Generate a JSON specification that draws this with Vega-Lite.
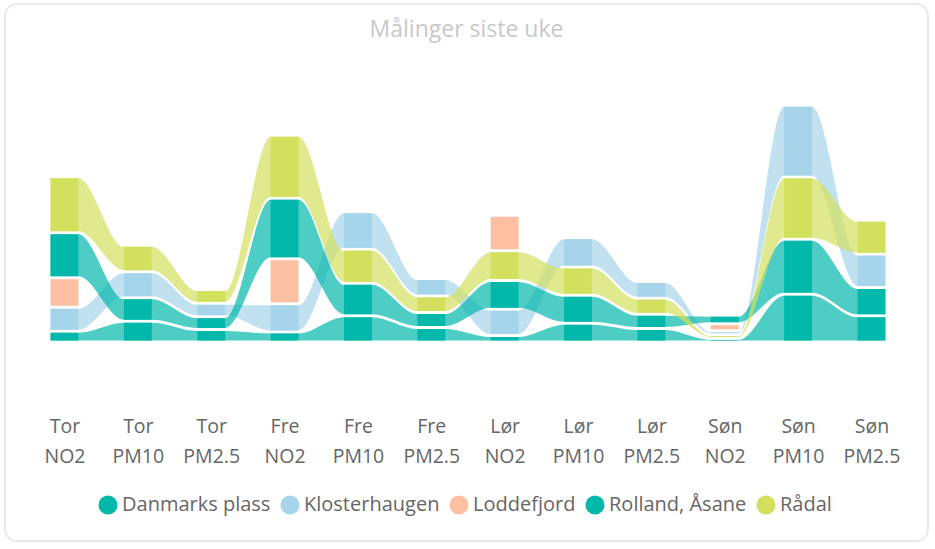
{
  "$schema": "https://vega.github.io/schema/vega-lite/v6.json",
  "width": 923,
  "height": 537,
  "autosize": {"type": "none"},
  "padding": {"left": 5, "top": 4, "right": 7, "bottom": 8},
  "background": "white",
  "title": {"text": "Målinger siste uke", "fontSize": 23, "color": "#C8C8C8", "font": "Open Sans", "fontWeight": "normal", "anchor": "middle", "offset": -38},
  "config": {
    "view": {"stroke": "#E4E4E4", "strokeWidth": 1.5, "cornerRadius": 12},
    "font": "Open Sans"
  },
  "data": {
    "values": [
      {"i": 0, "dag": "Tor", "komponent": "NO2", "station": "Rolland, Åsane", "v": 5.35},
      {"i": 0, "dag": "Tor", "komponent": "NO2", "station": "Klosterhaugen", "v": 12.05},
      {"i": 0, "dag": "Tor", "komponent": "NO2", "station": "Loddefjord", "v": 14.75},
      {"i": 0, "dag": "Tor", "komponent": "NO2", "station": "Danmarks plass", "v": 22.5},
      {"i": 0, "dag": "Tor", "komponent": "NO2", "station": "Rådal", "v": 27.95},
      {"i": 1, "dag": "Tor", "komponent": "PM10", "station": "Rolland, Åsane", "v": 10.35},
      {"i": 1, "dag": "Tor", "komponent": "PM10", "station": "Danmarks plass", "v": 11.8},
      {"i": 1, "dag": "Tor", "komponent": "PM10", "station": "Klosterhaugen", "v": 13.0},
      {"i": 1, "dag": "Tor", "komponent": "PM10", "station": "Rådal", "v": 13.25},
      {"i": 2, "dag": "Tor", "komponent": "PM2.5", "station": "Rolland, Åsane", "v": 6.25},
      {"i": 2, "dag": "Tor", "komponent": "PM2.5", "station": "Danmarks plass", "v": 6.4},
      {"i": 2, "dag": "Tor", "komponent": "PM2.5", "station": "Klosterhaugen", "v": 6.7},
      {"i": 2, "dag": "Tor", "komponent": "PM2.5", "station": "Rådal", "v": 6.9},
      {"i": 3, "dag": "Fre", "komponent": "NO2", "station": "Rolland, Åsane", "v": 5.0},
      {"i": 3, "dag": "Fre", "komponent": "NO2", "station": "Klosterhaugen", "v": 14.1},
      {"i": 3, "dag": "Fre", "komponent": "NO2", "station": "Loddefjord", "v": 22.5},
      {"i": 3, "dag": "Fre", "komponent": "NO2", "station": "Danmarks plass", "v": 30.25},
      {"i": 3, "dag": "Fre", "komponent": "NO2", "station": "Rådal", "v": 31.55},
      {"i": 4, "dag": "Fre", "komponent": "PM10", "station": "Rolland, Åsane", "v": 13.1},
      {"i": 4, "dag": "Fre", "komponent": "PM10", "station": "Danmarks plass", "v": 16.25},
      {"i": 4, "dag": "Fre", "komponent": "PM10", "station": "Rådal", "v": 17.05},
      {"i": 4, "dag": "Fre", "komponent": "PM10", "station": "Klosterhaugen", "v": 18.7},
      {"i": 5, "dag": "Fre", "komponent": "PM2.5", "station": "Rolland, Åsane", "v": 7.25},
      {"i": 5, "dag": "Fre", "komponent": "PM2.5", "station": "Danmarks plass", "v": 7.5},
      {"i": 5, "dag": "Fre", "komponent": "PM2.5", "station": "Rådal", "v": 8.3},
      {"i": 5, "dag": "Fre", "komponent": "PM2.5", "station": "Klosterhaugen", "v": 8.7},
      {"i": 6, "dag": "Lør", "komponent": "NO2", "station": "Rolland, Åsane", "v": 3.25},
      {"i": 6, "dag": "Lør", "komponent": "NO2", "station": "Klosterhaugen", "v": 13.15},
      {"i": 6, "dag": "Lør", "komponent": "NO2", "station": "Danmarks plass", "v": 14.35},
      {"i": 6, "dag": "Lør", "komponent": "NO2", "station": "Rådal", "v": 14.9},
      {"i": 6, "dag": "Lør", "komponent": "NO2", "station": "Loddefjord", "v": 17.75},
      {"i": 7, "dag": "Lør", "komponent": "PM10", "station": "Rolland, Åsane", "v": 9.35},
      {"i": 7, "dag": "Lør", "komponent": "PM10", "station": "Danmarks plass", "v": 14.0},
      {"i": 7, "dag": "Lør", "komponent": "PM10", "station": "Rådal", "v": 14.1},
      {"i": 7, "dag": "Lør", "komponent": "PM10", "station": "Klosterhaugen", "v": 14.7},
      {"i": 8, "dag": "Lør", "komponent": "PM2.5", "station": "Rolland, Åsane", "v": 6.75},
      {"i": 8, "dag": "Lør", "komponent": "PM2.5", "station": "Danmarks plass", "v": 7.1},
      {"i": 8, "dag": "Lør", "komponent": "PM2.5", "station": "Rådal", "v": 8.05},
      {"i": 8, "dag": "Lør", "komponent": "PM2.5", "station": "Klosterhaugen", "v": 8.3},
      {"i": 9, "dag": "Søn", "komponent": "NO2", "station": "Rolland, Åsane", "v": 1.8},
      {"i": 9, "dag": "Søn", "komponent": "NO2", "station": "Rådal", "v": 1.85},
      {"i": 9, "dag": "Søn", "komponent": "NO2", "station": "Klosterhaugen", "v": 1.9},
      {"i": 9, "dag": "Søn", "komponent": "NO2", "station": "Loddefjord", "v": 3.6},
      {"i": 9, "dag": "Søn", "komponent": "NO2", "station": "Danmarks plass", "v": 4.25},
      {"i": 10, "dag": "Søn", "komponent": "PM10", "station": "Rolland, Åsane", "v": 23.9},
      {"i": 10, "dag": "Søn", "komponent": "PM10", "station": "Danmarks plass", "v": 27.5},
      {"i": 10, "dag": "Søn", "komponent": "PM10", "station": "Rådal", "v": 31.1},
      {"i": 10, "dag": "Søn", "komponent": "PM10", "station": "Klosterhaugen", "v": 35.9},
      {"i": 11, "dag": "Søn", "komponent": "PM2.5", "station": "Rolland, Åsane", "v": 13.1},
      {"i": 11, "dag": "Søn", "komponent": "PM2.5", "station": "Danmarks plass", "v": 14.15},
      {"i": 11, "dag": "Søn", "komponent": "PM2.5", "station": "Klosterhaugen", "v": 16.65},
      {"i": 11, "dag": "Søn", "komponent": "PM2.5", "station": "Rådal", "v": 17.0}
    ]
  },
  "transform": [
    {"stack": "v", "groupby": ["i"], "sort": [{"field": "v", "order": "ascending"}], "as": ["v0", "v1"]}
  ],
  "encoding": {
    "y": {"field": "v1", "type": "quantitative", "scale": {"domain": [-99.5, 169], "nice": false, "zero": false}, "axis": null},
    "y2": {"field": "v0"},
    "color": {
      "field": "station",
      "type": "nominal",
      "scale": {
        "domain": ["Danmarks plass", "Klosterhaugen", "Loddefjord", "Rolland, Åsane", "Rådal"],
        "range": ["#01B8AA", "#A6D4EA", "#FDBFA2", "#01B8AA", "#D3E05D"]
      },
      "legend": {
        "orient": "none",
        "legendX": 93,
        "legendY": 491,
        "direction": "horizontal",
        "title": null,
        "symbolType": "circle",
        "symbolSize": 361,
        "symbolOpacity": 1,
        "symbolStrokeWidth": 0,
        "labelFontSize": 20,
        "labelColor": "#666666",
        "labelFont": "Open Sans",
        "labelLimit": 300,
        "columnPadding": 9,
        "labelOffset": 4
      }
    }
  },
  "layer": [
    {
      "transform": [
        {"filter": "datum.station !== 'Loddefjord'"},
        {"calculate": "[-0.19, 0.19]", "as": "e"},
        {"flatten": ["e"]},
        {"calculate": "datum.i + datum.e", "as": "xp"}
      ],
      "mark": {"type": "area", "interpolate": "monotone", "fillOpacity": 0.7, "yOffset": 1.5, "y2Offset": -1.5},
      "encoding": {
        "x": {
          "field": "xp",
          "type": "quantitative",
          "scale": {"domain": [-0.811, 11.771], "nice": false, "zero": false},
          "axis": {
            "values": [0, 1, 2, 3, 4, 5, 6, 7, 8, 9, 10, 11],
            "labelExpr": "[['Tor','NO2'],['Tor','PM10'],['Tor','PM2.5'],['Fre','NO2'],['Fre','PM10'],['Fre','PM2.5'],['Lør','NO2'],['Lør','PM10'],['Lør','PM2.5'],['Søn','NO2'],['Søn','PM10'],['Søn','PM2.5']][datum.value]",
            "domain": false,
            "ticks": false,
            "tickSize": 0,
            "grid": false,
            "title": null,
            "labelFontSize": 19.5,
            "labelColor": "#666666",
            "labelFont": "Open Sans",
            "labelLineHeight": 30,
            "labelPadding": 0,
            "offset": -124,
            "labelFlush": false,
            "labelOverlap": false,
            "labelBound": false
          }
        },
        "detail": {"field": "station"}
      }
    },
    {
      "transform": [
        {"calculate": "datum.i - 0.19", "as": "xa"},
        {"calculate": "datum.i + 0.19", "as": "xb"}
      ],
      "mark": {"type": "rect", "yOffset": 1.5, "y2Offset": -1.5},
      "encoding": {
        "x": {"field": "xa", "type": "quantitative"},
        "x2": {"field": "xb"}
      }
    }
  ]
}
